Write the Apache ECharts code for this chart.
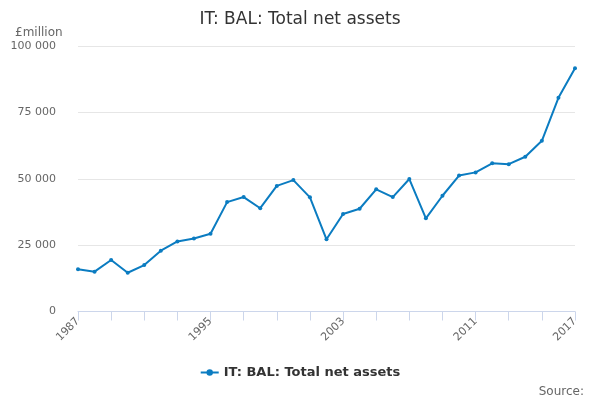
<!DOCTYPE html>
<html>
<head>
<meta charset="utf-8">
<script src="https://cdn.jsdelivr.net/npm/echarts@6/dist/echarts.min.js"></script>
<style>html,body{margin:0;padding:0;background:#fff}#c{width:600px;height:400px}</style>
</head>
<body>
<div id="c"></div>
<script>
const years = ['1987','1988','1989','1990','1991','1992','1993','1994','1995','1996','1997','1998','1999','2000','2001','2002','2003','2004','2005','2006','2007','2008','2009','2010','2011','2012','2013','2014','2015','2016','2017'];
const totalNetAssets = [15900,15000,19400,14600,17500,22900,26400,27500,29300,41200,43100,38900,47300,49500,43000,27200,36700,38700,46000,43100,49900,35100,43600,51200,52400,55800,55500,58300,64300,80500,91600];
const shownYearLabels = ['1987','1995','2003','2011','2017'];
const yTicks = [0,25000,50000,75000,100000];
const seriesName = 'IT: BAL: Total net assets';
const FONT = 'DejaVu Sans';

const chart = echarts.init(document.getElementById('c'), null, {renderer:'canvas'});
chart.setOption({
  animation:false,
  textStyle:{fontFamily:FONT},
  title:[
    {text:'IT: BAL: Total net assets', left:'center', top:6, textStyle:{fontFamily:FONT,fontSize:17,fontWeight:'normal',color:'#333'}},
    {text:'£million', left:10, top:22, textStyle:{fontFamily:FONT,fontSize:12,fontWeight:'normal',color:'#666'}},
    {text:'Source:', right:11, top:381, textStyle:{fontFamily:FONT,fontSize:12,fontWeight:'normal',color:'#666'}}
  ],
  legend:{
    bottom:16, left:'center', itemWidth:18, itemHeight:8,
    data:[seriesName],
    textStyle:{fontFamily:FONT,fontSize:13,fontWeight:'bold',color:'#333'}
  },
  grid:{left:78, right:25, top:46, bottom:88.5},
  xAxis:{
    type:'category', data:years, boundaryGap:false,
    axisLine:{lineStyle:{color:'#ccd6eb'}},
    axisTick:{show:true, length:9, alignWithLabel:true, interval:function(i){return i%2===0;}, lineStyle:{color:'#ccd6eb'}},
    axisLabel:{rotate:45, color:'#666', fontSize:11, fontFamily:FONT, margin:8,
      interval:function(i,v){return shownYearLabels.indexOf(v)>=0;}},
    splitLine:{show:false}
  },
  yAxis:{
    type:'value', min:yTicks[0], max:yTicks[yTicks.length-1], interval:yTicks[1]-yTicks[0],
    axisLine:{show:false}, axisTick:{show:false},
    axisLabel:{color:'#666', fontSize:11, fontFamily:FONT, margin:22,
      formatter:function(v){return v===0?'0':String(v).replace(/\B(?=(\d{3})+(?!\d))/g,' ');}},
    splitLine:{lineStyle:{color:'#e6e6e6'}}
  },
  series:[{
    name:seriesName, type:'line', data:totalNetAssets,
    symbol:'circle', symbolSize:4, showAllSymbol:true,
    lineStyle:{color:'#0b7cc1', width:2},
    itemStyle:{color:'#0b7cc1'}
  }]
});
</script>
</body>
</html>
